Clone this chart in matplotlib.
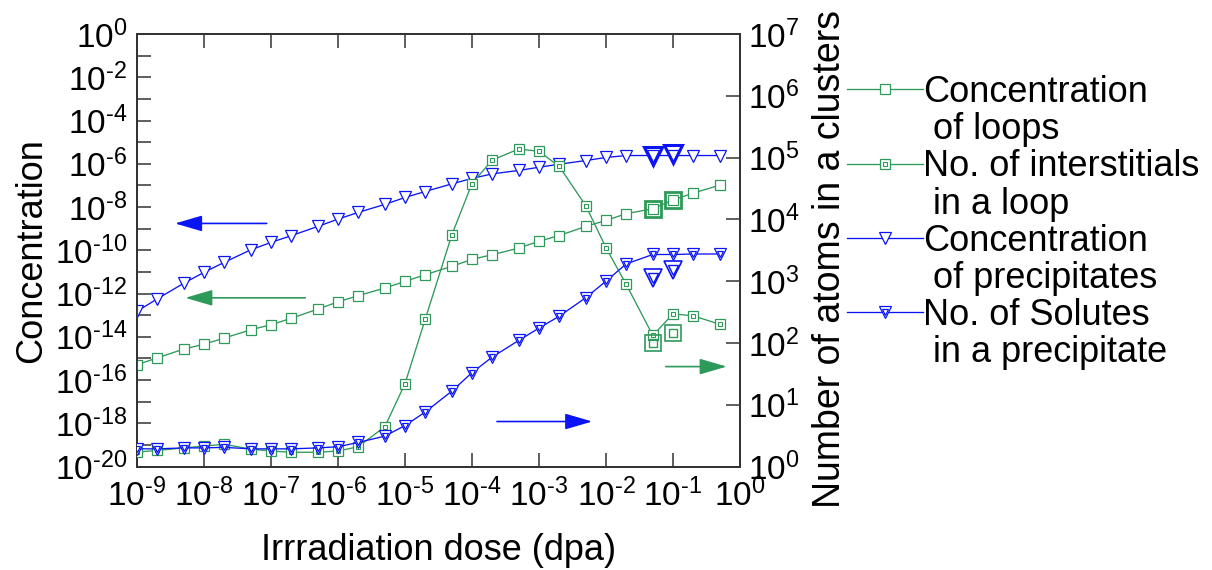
import matplotlib
matplotlib.use('Agg')
import matplotlib.pyplot as plt
from matplotlib.ticker import LogLocator, FuncFormatter, NullLocator, FixedLocator
from matplotlib.lines import Line2D
from matplotlib.legend_handler import HandlerTuple
import numpy as np

plt.rcParams['font.family'] = ['Liberation Sans', 'DejaVu Sans']
plt.rcParams['mathtext.fontset'] = 'custom'
plt.rcParams['mathtext.rm'] = 'Liberation Sans'
plt.rcParams['mathtext.it'] = 'Liberation Sans:italic'
plt.rcParams['mathtext.bf'] = 'Liberation Sans:bold'

# ---------------- data ----------------
dose = [1e-9, 2e-9, 5e-9, 1e-8, 2e-8, 5e-8, 1e-7, 2e-7, 5e-7,
        1e-6, 2e-6, 5e-6, 1e-5, 2e-5, 5e-5, 1e-4, 2e-4, 5e-4,
        1e-3, 2e-3, 5e-3, 1e-2, 2e-2, 5e-2, 1e-1, 2e-1, 5e-1]

conc_loops = [5.1e-16, 1.05e-15, 2.7e-15, 4.5e-15, 8.7e-15, 2.1e-14, 3.6e-14, 7.1e-14, 1.9e-13,
              4.1e-13, 7.9e-13, 1.8e-12, 3.6e-12, 7.4e-12, 1.8e-11, 3.8e-11, 6.2e-11, 1.26e-10,
              2.6e-10, 4.8e-10, 1.26e-9, 2.4e-9, 4.9e-9, 8.3e-9, 2.1e-8, 4.4e-8, 1.02e-7]

n_interstitials = [1.71, 1.82, 2.0, 2.14, 2.29, 1.91, 1.78, 1.70, 1.70,
                   1.78, 2.09, 4.4, 21.9, 240, 5600, 38000, 91000, 138000,
                   126000, 72000, 16600, 3470, 890, 132, 295, 275, 200]

conc_precip = [1.5e-13, 5.6e-13, 3.0e-12, 9.5e-12, 2.75e-11, 1.05e-10, 2.3e-10, 4.7e-10, 1.26e-9,
               2.75e-9, 5.6e-9, 1.32e-8, 2.75e-8, 5.2e-8, 1.17e-7, 2.1e-7, 3.4e-7, 4.9e-7,
               6.9e-7, 9.5e-7, 1.41e-6, 1.95e-6, 2.4e-6, 2.4e-6, 2.4e-6, 2.4e-6, 2.4e-6]

n_solutes = [1.93, 1.93, 2.0, 2.0, 2.04, 1.93, 1.93, 1.93, 2.0,
             2.09, 2.45, 3.1, 4.6, 7.6, 16.6, 33, 59, 110,
             174, 270, 540, 1000, 1900, 2700, 2700, 2750, 2750]

# highlighted points (large markers)
hl_dose = [5e-2, 1e-1]
hl_conc_loops = [8.0e-9, 2.0e-8]
hl_interstitials = [100, 145]
hl_conc_precip = [2.3e-6, 2.8e-6]
hl_solutes = [1120, 1510]

legend_labels = ['Concentration', ' of loops',
                 'No. of interstitials', ' in a loop',
                 'Concentration', ' of precipitates',
                 'No. of Solutes', ' in a precipitate']

GREEN = '#2e9a5a'
BLUE = '#0a14f5'
SPINE = '#333333'

fig = plt.figure(figsize=(12.12, 5.70), dpi=100)
ax = fig.add_axes([137/1212, 1-466.5/570, (740-137)/1212, (466.5-34)/570])
ax2 = ax.twinx()

ax.set_xscale('log')
ax.set_yscale('log')
ax2.set_yscale('log')
ax.set_xlim(1e-9, 1e0)
ax.set_ylim(1e-20, 1e0)
ax2.set_ylim(1e0, 1e7)

lw = 0.95
ms_sq = 7.0
ms_tri = 8.0

# Concentration of loops (left)
ax.plot(dose, conc_loops, color=GREEN, lw=lw, marker='s', ms=ms_sq,
        mfc='white', mec=GREEN, mew=0.9, zorder=3)
ax.plot(hl_dose, hl_conc_loops, ls='none', marker='s', ms=12, mfc='none',
        mec=GREEN, mew=2.0, zorder=4)

# Concentration of precipitates (left)
ax.plot(dose, conc_precip, color=BLUE, lw=lw, marker='v', ms=ms_tri,
        mfc='white', mec=BLUE, mew=0.9, zorder=3)
ax.plot(hl_dose, hl_conc_precip, ls='none', marker='v', ms=13, mfc='none',
        mec=BLUE, mew=2.2, zorder=4)

# No. of interstitials (right)
ax2.plot(dose, n_interstitials, color=GREEN, lw=lw, marker='s', ms=ms_sq,
         mfc='white', mec=GREEN, mew=0.9, zorder=3)
ax2.plot(dose, n_interstitials, ls='none', marker='s', ms=3.0, mfc='none',
         mec=GREEN, mew=0.8, zorder=3)
ax2.plot(hl_dose, hl_interstitials, ls='none', marker='s', ms=12, mfc='none',
         mec=GREEN, mew=1.2, zorder=4)
ax2.plot(hl_dose, hl_interstitials, ls='none', marker='s', ms=6, mfc='none',
         mec=GREEN, mew=1.0, zorder=4)

# No. of solutes (right)
ax2.plot(dose, n_solutes, color=BLUE, lw=lw, marker='v', ms=ms_tri,
         mfc='white', mec=BLUE, mew=0.9, zorder=3)
ax2.plot(dose, n_solutes, ls='none', marker='v', ms=4.0, mfc='none',
         mec=BLUE, mew=0.9, zorder=3)
ax2.plot(hl_dose, hl_solutes, ls='none', marker='v', ms=13, mfc='none',
         mec=BLUE, mew=1.2, zorder=4)
ax2.plot(hl_dose, hl_solutes, ls='none', marker='v', ms=7, mfc='none',
         mec=BLUE, mew=1.0, zorder=4)

# ---------------- axes styling ----------------
def exp_label(e):
    s = str(abs(e))
    if e < 0:
        s = '\u2010' + s
    return r'$10^{%s}$' % s

def sci_fmt(v, pos):
    return exp_label(int(round(np.log10(v))))

def left_fmt(v, pos):
    e = int(round(np.log10(v)))
    if e % 2 != 0:
        return ''
    return exp_label(e)

ax.xaxis.set_major_locator(LogLocator(base=10, numticks=20))
ax.xaxis.set_minor_locator(NullLocator())
ax.xaxis.set_major_formatter(FuncFormatter(sci_fmt))
ax.yaxis.set_major_locator(FixedLocator([10.0**k for k in range(-20, 1)]))
ax.yaxis.set_minor_locator(NullLocator())
ax.yaxis.set_major_formatter(FuncFormatter(left_fmt))
ax2.yaxis.set_major_locator(FixedLocator([10.0**k for k in range(0, 8)]))
ax2.yaxis.set_minor_locator(NullLocator())
ax2.yaxis.set_major_formatter(FuncFormatter(sci_fmt))

ax.tick_params(axis='x', which='major', direction='in', length=10, width=1.1,
               top=True, bottom=True, labelsize=24, pad=9, colors=SPINE, labelcolor='black')
ax.tick_params(axis='y', which='major', direction='in', length=10, width=1.1,
               left=True, right=False, labelsize=24, pad=7, colors=SPINE, labelcolor='black')
ax2.tick_params(axis='y', which='major', direction='in', length=10, width=1.1,
                right=True, left=False, labelsize=24, pad=6, colors=SPINE, labelcolor='black')

for a in (ax, ax2):
    for s in a.spines.values():
        s.set_color(SPINE)
        s.set_linewidth(1.3)

ax.set_xlabel('Irrradiation dose (dpa)', fontsize=26, labelpad=14)
ax.set_ylabel('Concentration', fontsize=26, labelpad=4)
ax2.set_ylabel('Number of atoms in a clusters', fontsize=27, labelpad=4)
ax2.yaxis.set_label_coords(1.12, 0.48)

# ---------------- arrows ----------------
def arrow(x0, x1, y, color):
    ax.annotate('', xy=(x1, y), xytext=(x0, y), xycoords='axes fraction',
                textcoords='axes fraction',
                arrowprops=dict(arrowstyle='-|>,head_length=1.2,head_width=0.35',
                                color=color, lw=1.2, shrinkA=0, shrinkB=0,
                                mutation_scale=14))

arrow(0.215, 0.063, 0.562, BLUE)
arrow(0.279, 0.080, 0.390, GREEN)
arrow(0.597, 0.755, 0.104, BLUE)
arrow(0.877, 0.978, 0.231, GREEN)

# ---------------- legend ----------------
h1 = Line2D([], [], color=GREEN, lw=lw, marker='s', ms=ms_sq, mfc='white', mec=GREEN, mew=0.9)
h2 = (Line2D([], [], color=GREEN, lw=lw, marker='s', ms=ms_sq, mfc='white', mec=GREEN, mew=0.9),
      Line2D([], [], ls='none', marker='s', ms=3.0, mfc='none', mec=GREEN, mew=0.8))
h3 = Line2D([], [], color=BLUE, lw=lw, marker='v', ms=ms_tri, mfc='white', mec=BLUE, mew=0.9)
h4 = (Line2D([], [], color=BLUE, lw=lw, marker='v', ms=ms_tri, mfc='white', mec=BLUE, mew=0.9),
      Line2D([], [], ls='none', marker='v', ms=4.0, mfc='none', mec=BLUE, mew=0.9))
blank = Line2D([], [], ls='none')

fig.legend(handles=[h1, blank, h2, blank, h3, blank, h4, blank], labels=legend_labels,
           loc='upper left', bbox_to_anchor=(847/1212, 1-75/570), frameon=False,
           fontsize=26, handlelength=2.1, handletextpad=0, labelspacing=0.06,
           borderpad=0, borderaxespad=0, numpoints=1,
           handler_map={tuple: HandlerTuple(ndivide=1)})

fig.savefig('out.png', dpi=100)
